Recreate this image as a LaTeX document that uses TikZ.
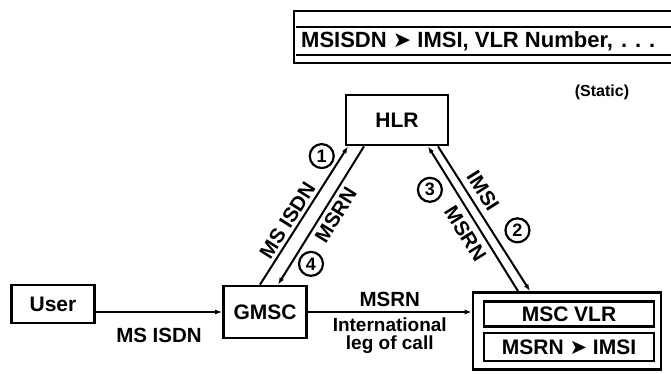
\documentclass[tikz,border=0pt]{standalone}
\usepackage{fontspec}
\setmainfont{Liberation Sans}
\newfontfamily\dingfont{DejaVu Sans}
\usetikzlibrary{positioning}
\usetikzlibrary{calc}
\usetikzlibrary{arrows.meta}
\newcommand{\maparrow}{{\dingfont\symbol{"27A4}}}

\begin{document}
\begin{tikzpicture}[
    x=1pt, y=-1pt,
    lbl/.style={font=\fontsize{20.5}{20.5}\selectfont\bfseries, inner sep=1pt},
    block/.style={
        draw, line width=2.8pt, minimum width=83pt, minimum height=38pt,
        inner sep=0pt, font=\fontsize{21}{21}\selectfont\bfseries
    },
    field/.style={
        draw, line width=2.2pt, minimum width=170pt, minimum height=25pt,
        inner sep=0pt, font=\fontsize{21}{21}\selectfont\bfseries
    },
    seqnum/.style={
        draw, circle, line width=2.2pt, minimum size=24pt, inner sep=0pt,
        font=\fontsize{18}{18}\selectfont\bfseries
    },
    conn/.style={-{Latex[length=7pt,width=5pt]}, line width=2pt},
    rconn/.style={{Latex[length=7pt,width=5pt]}-, line width=2pt},
]
\useasboundingbox (0,0) rectangle (671,374);

% HLR table
\draw[line width=2.8pt] (671,11) -- (294,11) -- (294,63) -- (671,63);
\draw[line width=1.2pt] (296,27) -- (671,27) (296,55) -- (671,55);
\node[lbl, anchor=west, font=\fontsize{22}{22}\selectfont\bfseries] (hlrtable) at (300,41)
    {MSISDN \maparrow\ IMSI, VLR Number,\hspace{8pt}.\hspace{8pt}.\hspace{8pt}.};
\node[lbl, font=\fontsize{16}{16}\selectfont\bfseries] (static) at (602,92) {(Static)};

% Network elements
\node[block, minimum width=102pt, minimum height=50pt] (hlr) at (397,120) {HLR};
\node[block] (user) at (53,304) {User};
\node[block, minimum height=52pt] (gmsc) at (265,312) {GMSC};
\node[block, minimum width=188pt, minimum height=77pt] (vlr) at (567,331) {};
\node[field] (vlrname) at (569,314) {MSC VLR};
\node[field, minimum height=28pt] (vlrmap) at (569,347) {MSRN \maparrow\ IMSI};

% Call set-up
\draw[conn] (user.east |- gmsc.west) -- (gmsc.west)
    node[lbl, midway, below=14pt] {MS ISDN};
\draw[conn] (gmsc.east) -- (gmsc.east -| vlr.west)
    node[lbl, midway, above=3pt] {MSRN}
    node[lbl, midway, below=4pt, align=center,
         font=\fontsize{19}{18}\selectfont\bfseries] {International\\leg of call};

% Signalling GMSC - HLR
\draw[conn] ([xshift=-5pt]gmsc.north) -- ([xshift=-49pt]hlr.south)
    node[lbl, pos=0.42, sloped, above=2pt] {MS ISDN}
    node[seqnum, pos=0.93, left=7pt] {1};
\draw[rconn] ([xshift=13pt]gmsc.north) -- ([xshift=-33pt]hlr.south)
    node[lbl, pos=0.55, sloped, below=3pt] {MSRN}
    node[seqnum, pos=0.15, right=7pt] {4};

% Signalling HLR - VLR
\draw[conn] ([xshift=41pt]hlr.south) -- ([xshift=-37pt]vlr.north)
    node[lbl, pos=0.36, sloped, above=5pt] {IMSI}
    node[seqnum, pos=0.58, right=13pt] {2};
\draw[rconn] ([xshift=31pt]hlr.south) -- ([xshift=-49pt]vlr.north)
    node[lbl, pos=0.55, sloped, below=5pt] {MSRN}
    node[seqnum, pos=0.3, left=12pt] {3};

\end{tikzpicture}
\end{document}
